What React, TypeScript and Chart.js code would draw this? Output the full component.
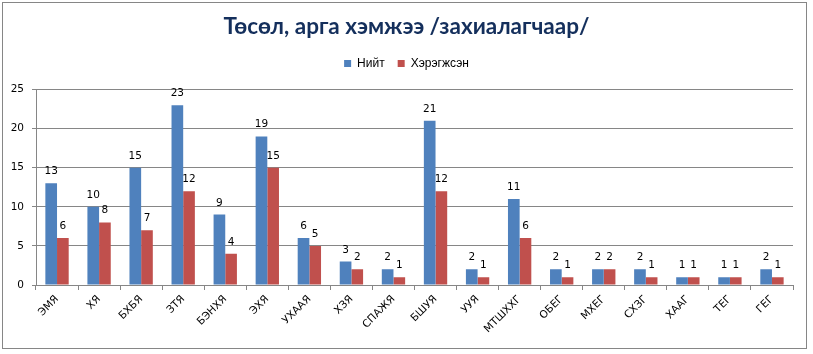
import React, { useEffect, useRef } from "react";
import { Chart, registerables } from "chart.js";

Chart.register(...registerables);

const categories = ["ЭМЯ", "ХЯ", "БХБЯ", "ЗТЯ", "БЭНХЯ", "ЭХЯ", "УХААЯ", "ХЗЯ", "СПАЖЯ", "БШУЯ", "УУЯ", "МТШХХГ", "ОБЕГ", "МХЕГ", "СХЗГ", "ХААГ", "ТЕГ", "ГЕГ"];
const totalValues = [13, 10, 15, 23, 9, 19, 6, 3, 2, 21, 2, 11, 2, 2, 2, 1, 1, 2];
const doneValues = [6, 8, 7, 12, 4, 15, 5, 2, 1, 12, 1, 6, 1, 2, 1, 1, 1, 1];
const seriesNames = ["Нийт", "Хэрэгжсэн"];
const titleText = "Төсөл, арга хэмжээ /захиалагчаар/";

const GRID = "#868686";
const TICK_FONT = "DejaVu Sans";

const frame = {
  id: "frame",
  beforeDraw(chart: any) {
    const ctx = chart.ctx;
    ctx.save();
    ctx.fillStyle = "#ffffff";
    ctx.fillRect(0, 0, chart.width, chart.height);
    ctx.strokeStyle = GRID;
    ctx.lineWidth = 1;
    ctx.strokeRect(2.5, 2.5, 804, 346);
    ctx.restore();
  },
};

const valueLabels = {
  id: "valueLabels",
  afterDatasetsDraw(chart: any) {
    const ctx = chart.ctx;
    ctx.save();
    ctx.font = `10.5px "${TICK_FONT}"`;
    ctx.fillStyle = "#000";
    ctx.textAlign = "center";
    ctx.textBaseline = "alphabetic";
    chart.data.datasets.forEach((ds: any, i: number) => {
      const meta = chart.getDatasetMeta(i);
      meta.data.forEach((bar: any, j: number) => {
        ctx.fillText(String(ds.data[j]), bar.x, bar.y - 9);
      });
    });
    ctx.restore();
  },
};

export default function App() {
  const ref = useRef<HTMLCanvasElement | null>(null);
  useEffect(() => {
    if (!ref.current) return;
    const chart = new Chart(ref.current, {
      type: "bar",
      data: {
        labels: categories,
        datasets: [
          { label: seriesNames[0], data: totalValues, backgroundColor: "#4F81BD", categoryPercentage: 0.555, barPercentage: 1 },
          { label: seriesNames[1], data: doneValues, backgroundColor: "#C0504D", categoryPercentage: 0.555, barPercentage: 1 },
        ],
      },
      options: {
        responsive: false,
        animation: false,
        layout: { padding: { left: 4, right: 4, top: 3, bottom: 4 } },
        plugins: {
          tooltip: { enabled: false },
          title: {
            display: true,
            text: titleText,
            color: "#142F5C",
            font: { family: "Lato", size: 22.5, weight: "bold", lineHeight: 1.2 },
            padding: { top: 10.5, bottom: 4 },
          },
          subtitle: {
            display: true,
            text: "",
            weight: 500,
            font: { size: 10, lineHeight: 1 },
            padding: 0,
          } as any,
          legend: {
            display: true,
            position: "top",
            labels: {
              boxWidth: 7,
              boxHeight: 7,
              padding: 13,
              color: "#000",
              font: { family: "Liberation Sans", size: 12 },
            },
          },
        },
        scales: {
          x: {
            grid: { drawOnChartArea: false, offset: true, tickLength: 5, color: GRID },
            border: { color: GRID },
            ticks: {
              autoSkip: false,
              minRotation: 45,
              maxRotation: 45,
              color: "#000",
              font: { family: TICK_FONT, size: 10.5 },
            },
            afterFit: (s: any) => { s.height = 354 - 4 - 285; },
          },
          y: {
            min: 0,
            max: 25,
            ticks: { stepSize: 5, color: "#000", padding: 8, font: { family: TICK_FONT, size: 10.5 } },
            grid: { color: GRID, tickLength: 4 },
            border: { color: GRID },
            afterFit: (s: any) => { s.width = 32; },
          },
          y2: {
            position: "right",
            display: true,
            ticks: { display: false },
            grid: { display: false },
            border: { display: false },
            afterFit: (s: any) => { s.width = 16; },
          },
        },
      },
      plugins: [frame, valueLabels],
    });
    return () => chart.destroy();
  }, []);
  return (
    <div style={{ position: "absolute", left: 0, top: 0, width: 813, height: 354 }}>
      <canvas ref={ref} width={813} height={354} style={{ display: "block", width: 813, height: 354 }} />
    </div>
  );
}
